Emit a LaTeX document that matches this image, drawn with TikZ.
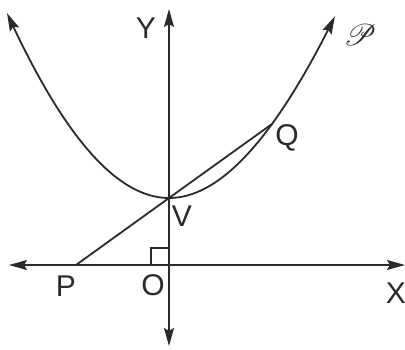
\documentclass[tikz,border=0pt]{standalone}
\usepackage{fontspec}
\setmainfont{Liberation Sans}
\usepackage{mathrsfs}
\usepackage{graphicx}
\usepackage{pdfrender}
\usetikzlibrary{arrows.meta}
\definecolor{ink}{HTML}{2A2A2A}
\tikzset{
  axis/.style={draw=ink, line width=1.8pt},
  curve/.style={draw=ink, line width=1.8pt},
  tip/.style={-{Stealth[length=18pt,width=10pt,inset=3pt]}},
  lbl/.style={text=ink, inner sep=0pt, font=\fontsize{30}{34}\selectfont}
}
\begin{document}
\begin{tikzpicture}[x=1pt,y=-1pt]
\useasboundingbox (0,0) rectangle (405,349);
% key points
\coordinate (O) at (169,265);
\coordinate (V) at (169,198);
\coordinate (P) at (76,265);
\coordinate (Q) at (272,124);
\coordinate (Ytop) at (169,9);
\coordinate (Ybot) at (169,346);
\coordinate (Xl) at (9,265);
\coordinate (Xr) at (405,265);
% axes
\draw[axis,{Stealth[length=18pt,width=10pt,inset=3pt]}-{Stealth[length=18pt,width=10pt,inset=3pt]}] (Ybot) -- (Ytop);
\draw[axis,{Stealth[length=18pt,width=10pt,inset=3pt]}-{Stealth[length=18pt,width=10pt,inset=3pt]}] (Xl) -- (Xr);
% right angle mark
\draw[draw=ink, line width=1.5pt] (O) ++(-18,0) -- ++(0,-17) -- ++(18,0);
% parabola
\draw[curve,tip] plot[domain=0:1.66, samples=60, smooth, variable=\u] ({169+100*\u}, {198-(75.8*\u*\u-5.88*\u*\u*\u)});
\draw[curve,tip] plot[domain=0:-1.62, samples=60, smooth, variable=\u] ({169+100*\u}, {198-(76*\u*\u+3.4*\u*\u*\u)});
% chord through V
\draw[curve] (P) -- (V) -- (Q);
% labels
\node[lbl] (lY) at (146,28) {Y};
\node[lbl] (lQ) at (287,138) {Q};
\node[lbl] (lV) at (182,216) {V};
\node[lbl] (lP) at (66,286) {P};
\node[lbl] (lO) at (153,285) {O};
\node[lbl] (lX) at (396,293) {X};
\node[text=ink, inner sep=0pt] (lcurve) at (360,35) {\scalebox{3.0}{\textpdfrender{TextRenderingMode=FillStroke,LineWidth=0.6pt}{$\mathscr{P}$}}};
\end{tikzpicture}
\end{document}
